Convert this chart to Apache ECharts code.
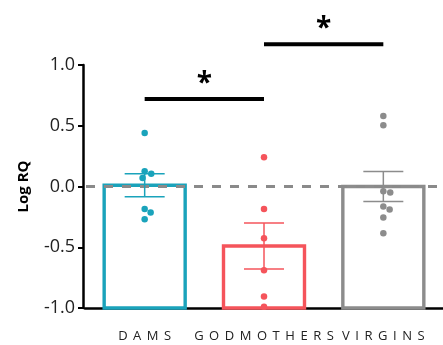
<!DOCTYPE html>
<html>
<head>
<meta charset="utf-8">
<script src="https://cdn.jsdelivr.net/npm/echarts@6/dist/echarts.min.js"></script>
<style>
  html, body { margin: 0; padding: 0; background: #fff; }
  #chart { width: 443px; height: 345px; }
</style>
</head>
<body>
<div id="chart"></div>
<script>
// Groups and their summary values (mean ± SEM of log RQ)
const groups = ['DAMS', 'GODMOTHERS', 'VIRGINS'];
const groupMeans = [0.01, -0.49, 0.0];
const groupSEM = [0.095, 0.19, 0.123];

// Individual animals per group
const damsPoints = [0.44, 0.125, 0.105, 0.07, -0.185, -0.215, -0.27];
const godmothersPoints = [0.24, -0.185, -0.425, -0.69, -0.905, -0.99];
const virginsPoints = [0.58, 0.505, -0.04, -0.05, -0.165, -0.19, -0.255, -0.385];

// Y axis ticks
const yTicks = [-1.0, -0.5, 0.0, 0.5, 1.0];

// Significance brackets: which groups, at what height, with which mark
const sigPairs = [[0, 1], [1, 2]];
const sigHeights = [0.72, 1.17];
const sigMarks = ['*', '*'];

// ---- styling / layout ----
const colors = ['#1aa3bb', '#f5545b', '#8c8c8c'];
const FONT = '"Open Sans", "Noto Sans", sans-serif';
const GRID = { left: 85, top: 65, width: 363, height: 243 };
const yMin = yTicks[0], yMax = yTicks[yTicks.length - 1];
const DOT = 6.5;
const pxPerUnit = GRID.height / (yMax - yMin);

// Simple beeswarm: push dots sideways so they do not overlap
function swarm(values) {
  const order = values.map((v, i) => i).sort((a, b) => values[b] - values[a]);
  const placed = [];
  const offs = new Array(values.length).fill(0);
  const D = DOT + 0.5;
  order.forEach(idx => {
    const y = -values[idx] * pxPerUnit;
    const near = placed.filter(p => Math.abs(p.y - y) < D);
    const cands = [0];
    near.forEach(p => {
      const dx = Math.sqrt(D * D - (p.y - y) * (p.y - y));
      cands.push(p.x + dx, p.x - dx);
    });
    cands.sort((a, b) => Math.abs(a) - Math.abs(b) || b - a);
    let x = 0;
    for (const c of cands) {
      if (near.every(p => Math.hypot(p.x - c, p.y - y) >= D - 0.01)) { x = c; break; }
    }
    placed.push({ x, y });
    offs[idx] = x;
  });
  return offs;
}

const pointSets = [damsPoints, godmothersPoints, virginsPoints];
const dotSeries = pointSets.map((pts, gi) => {
  const offs = swarm(pts);
  return {
    type: 'scatter',
    xAxisIndex: 0,
    z: 6,
    symbolSize: DOT,
    itemStyle: { color: colors[gi], opacity: 1 },
    data: pts.map((v, k) => ({ value: [gi, v], symbolOffset: [offs[k], 0] })),
    silent: true
  };
});

const chart = echarts.init(document.getElementById('chart'), null, { renderer: 'canvas' });

chart.setOption({
  animation: false,
  backgroundColor: '#fff',
  grid: GRID,
  xAxis: [
    {
      type: 'category',
      data: groups,
      axisLine: { onZero: false, lineStyle: { color: '#000', width: 2.5 } },
      axisTick: { alignWithLabel: true, length: 6, lineStyle: { color: '#000', width: 2 } },
      axisLabel: {
        interval: 0,
        margin: 22,
        fontFamily: FONT,
        fontSize: 13,
        color: '#222',
        formatter: s => s.split('').join(' \u2009')
      }
    },
    {
      type: 'value', min: -0.5, max: 2.5, show: false,
      axisLine: { onZero: false }
    }
  ],
  yAxis: {
    type: 'value',
    min: yMin,
    max: yMax,
    interval: 0.5,
    offset: 2,
    name: 'Log RQ',
    nameLocation: 'middle',
    nameGap: 52,
    nameTextStyle: { fontFamily: FONT, fontSize: 15, fontWeight: 'bold', color: '#000' },
    splitLine: { show: false },
    axisLine: { show: true, onZero: false, lineStyle: { color: '#000', width: 2.5 } },
    axisTick: { show: true, length: 5, lineStyle: { color: '#000', width: 2 } },
    axisLabel: {
      margin: 8,
      fontFamily: FONT,
      fontSize: 18,
      color: '#222',
      formatter: v => v.toFixed(1)
    }
  },
  series: [
    // hollow bars rising from the bottom of the axis to the group mean
    {
      type: 'custom',
      xAxisIndex: 0,
      z: 2,
      silent: true,
      data: groupMeans.map((m, i) => [i, m]),
      renderItem(params, api) {
        const i = api.value(0);
        const top = api.coord([i, api.value(1)]);
        const base = api.coord([i, yMin]);
        const w = 81;
        return {
          type: 'rect',
          shape: { x: top[0] - w / 2, y: top[1], width: w, height: base[1] - top[1] },
          style: { fill: '#fff', stroke: colors[i], lineWidth: 3.4 }
        };
      }
    },
    // dashed reference line at zero
    {
      type: 'custom',
      xAxisIndex: 0,
      z: 3,
      silent: true,
      clip: false,
      data: [[0, 0]],
      renderItem(params, api) {
        const cs = params.coordSys;
        const y = api.coord([0, 0])[1];
        return {
          type: 'line',
          shape: { x1: cs.x + 1, y1: y, x2: cs.x + cs.width, y2: y },
          style: { stroke: '#8a8a8a', lineWidth: 3, lineDash: [9, 9] }
        };
      }
    },
    // SEM error bars
    {
      type: 'custom',
      xAxisIndex: 0,
      z: 4,
      silent: true,
      data: groupMeans.map((m, i) => [i, m - groupSEM[i], m + groupSEM[i]]),
      renderItem(params, api) {
        const i = api.value(0);
        const lo = api.coord([i, api.value(1)]);
        const hi = api.coord([i, api.value(2)]);
        const cap = 20;
        const st = { stroke: colors[i], lineWidth: 1.5 };
        return {
          type: 'group',
          children: [
            { type: 'line', shape: { x1: lo[0], y1: lo[1], x2: hi[0], y2: hi[1] }, style: st },
            { type: 'line', shape: { x1: lo[0] - cap, y1: lo[1], x2: lo[0] + cap, y2: lo[1] }, style: st },
            { type: 'line', shape: { x1: hi[0] - cap, y1: hi[1], x2: hi[0] + cap, y2: hi[1] }, style: st }
          ]
        };
      }
    },
    ...dotSeries,
    // significance brackets with asterisks
    {
      type: 'custom',
      xAxisIndex: 1,
      z: 5,
      silent: true,
      clip: false,
      data: sigPairs.map((p, k) => [p[0], p[1], sigHeights[k], k]),
      renderItem(params, api) {
        const a = api.coord([api.value(0), api.value(2)]);
        const b = api.coord([api.value(1), api.value(2)]);
        const k = api.value(3);
        return {
          type: 'group',
          children: [
            { type: 'line', shape: { x1: a[0], y1: a[1], x2: b[0], y2: b[1] },
              style: { stroke: '#000', lineWidth: 4 } },
            { type: 'text', x: (a[0] + b[0]) / 2, y: a[1] - 15,
              style: { text: sigMarks[k], fontFamily: FONT, fontSize: 28, fontWeight: 'bold',
                       fill: '#000', align: 'center', verticalAlign: 'middle' } }
          ]
        };
      }
    }
  ]
});
</script>
</body>
</html>
